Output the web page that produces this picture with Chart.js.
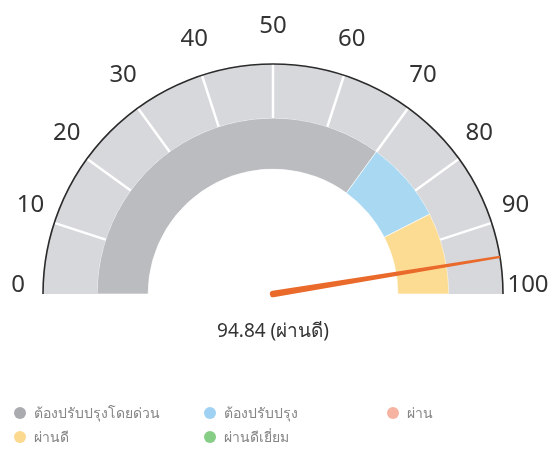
<!DOCTYPE html>
<html>
<head>
<meta charset="utf-8">
<script src="https://cdn.jsdelivr.net/npm/chart.js@4.4.1/dist/chart.umd.min.js"></script>
<style>
  html, body { margin: 0; padding: 0; background: #fff; }
  .wrap { position: relative; width: 559px; height: 453px; }
  #gaugeChart { position: absolute; left: 0; top: 0; }
  .legend {
    position: absolute; left: 14px; top: 401px;
    display: grid; grid-template-columns: 190px 183px auto; grid-auto-rows: 24px;
    font-family: "Noto Sans", "DejaVu Sans", sans-serif; font-size: 14px; color: #858585;
  }
  .legend .item { display: flex; align-items: center; }
  .legend .dot { width: 12px; height: 12px; border-radius: 50%; margin-right: 8px; }
</style>
</head>
<body>
<div class="wrap">
  <canvas id="gaugeChart" width="559" height="453"></canvas>
  <div class="legend" id="legend"></div>
</div>
<script>
// score bands (inner ring)
const bandLabels = ['ต้องปรับปรุงโดยด่วน', 'ต้องปรับปรุง', 'ผ่าน', 'ผ่านดี', 'ผ่านดีเยี่ยม'];
const bandValues = [70, 15, 0, 15, 0];
const bandColors = ['#babcc0', '#a8d8f2', '#f6b4a3', '#fcdc93', '#88cf88'];
const legendColors = ['#a9abaf', '#9fd2f2', '#f6b3a2', '#fbd98e', '#86cd86'];

// scale ring (outer), one segment per 10 points
const tickLabels = [0, 10, 20, 30, 40, 50, 60, 70, 80, 90, 100];
const scaleSegments = [10, 10, 10, 10, 10, 10, 10, 10, 10, 10];

const needleValue = 94.84;
const needleText = '94.84 (ผ่านดี)';

const gaugePlugin = {
    id: 'gauge',
    afterDatasetsDraw(chart) {
        const ctx = chart.ctx;
        const outer = chart.getDatasetMeta(0).data;
        const first = outer[0];
        const cx = first.x, cy = first.y;
        const R = first.outerRadius;
        const start = first.startAngle;
        const total = outer[outer.length - 1].endAngle - start;

        ctx.save();
        // white separators on the scale ring
        ctx.strokeStyle = '#ffffff';
        ctx.lineWidth = 2.5;
        for (let i = 1; i < outer.length; i++) {
            const a = outer[i].startAngle;
            ctx.beginPath();
            ctx.moveTo(cx + Math.cos(a) * outer[i].innerRadius, cy + Math.sin(a) * outer[i].innerRadius);
            ctx.lineTo(cx + Math.cos(a) * R, cy + Math.sin(a) * R);
            ctx.stroke();
        }

        // dark rim
        ctx.strokeStyle = '#2b2b2b';
        ctx.lineWidth = 1.6;
        ctx.beginPath();
        ctx.arc(cx, cy, R, start, start + total);
        ctx.stroke();

        // tick labels
        ctx.fillStyle = '#333';
        ctx.font = '24px "Noto Sans", "DejaVu Sans", sans-serif';
        ctx.textAlign = 'center';
        ctx.textBaseline = 'middle';
        tickLabels.forEach(v => {
            const a = start + total * v / 100;
            const x = cx + Math.cos(a) * (R + 25);
            const y = cy + Math.sin(a) * (R + 29) - 9;
            ctx.fillText(String(v), x, y);
        });

        // needle, tapering towards the rim
        const na = start + total * needleValue / 100;
        const len = R;
        const dx = Math.cos(na), dy = Math.sin(na);
        const px = -dy, py = dx;
        const base = 3.2, tip = 1.2;
        ctx.fillStyle = '#ea6a2b';
        ctx.beginPath();
        ctx.moveTo(cx + px * base, cy + py * base);
        ctx.lineTo(cx + dx * len + px * tip, cy + dy * len + py * tip);
        ctx.lineTo(cx + dx * len - px * tip, cy + dy * len - py * tip);
        ctx.lineTo(cx - px * base, cy - py * base);
        ctx.arc(cx, cy, base, na - Math.PI / 2, na - Math.PI * 1.5, true);
        ctx.closePath();
        ctx.fill();

        // value text
        ctx.fillStyle = '#333';
        ctx.font = '19px "Noto Sans", "DejaVu Sans", sans-serif';
        ctx.fillText(needleText, cx, cy + 38);
        ctx.restore();
    }
};

new Chart(document.getElementById('gaugeChart'), {
    type: 'doughnut',
    data: {
        labels: bandLabels,
        datasets: [{
            data: scaleSegments,
            backgroundColor: '#d6d8db',
            borderWidth: 0,
            weight: 54
        }, {
            data: bandValues,
            backgroundColor: bandColors,
            borderColor: 'rgba(255,255,255,0.6)',
            borderWidth: 1,
            weight: 51
        }]
    },
    options: {
        responsive: false,
        animation: false,
        rotation: -90,
        circumference: 180,
        cutout: '54.3%',
        layout: { padding: { left: 43, right: 56, top: 64, bottom: 159 } },
        plugins: {
            legend: { display: false },
            tooltip: { enabled: false }
        }
    },
    plugins: [gaugePlugin]
});

// legend below the gauge
const legendEl = document.getElementById('legend');
bandLabels.forEach((label, i) => {
    const item = document.createElement('div');
    item.className = 'item';
    item.innerHTML = '<span class="dot" style="background:' + legendColors[i] + '"></span><span>' + label + '</span>';
    legendEl.appendChild(item);
});
</script>
</body>
</html>
